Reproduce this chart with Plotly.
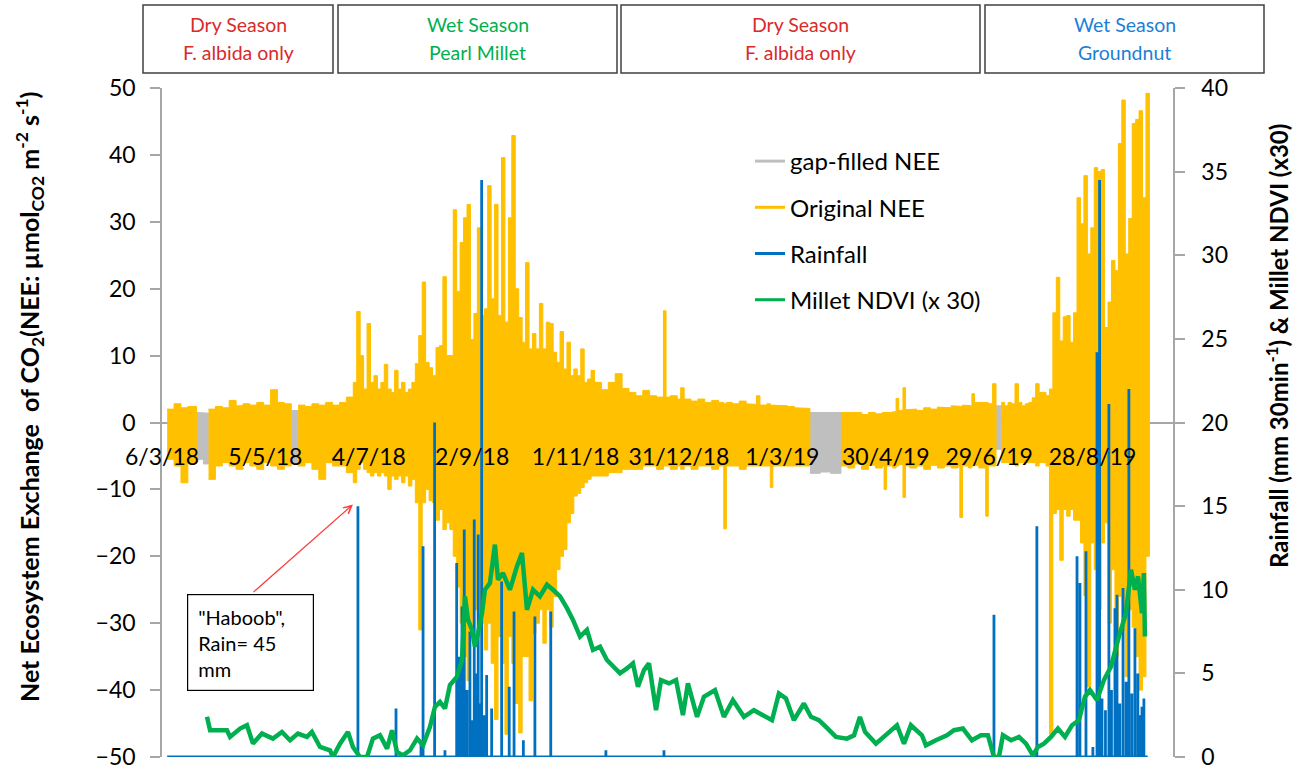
import plotly.graph_objects as go
from datetime import datetime, timedelta

# ---------------- data ----------------
BASE = datetime(2018, 3, 6)          # day 0 of the series / first axis tick

tick_dates = ["2018-03-06", "2018-05-05", "2018-07-04", "2018-09-02", "2018-11-01",
              "2018-12-31", "2019-03-01", "2019-04-30", "2019-06-29", "2019-08-28"]
tick_labels = ["6/3/18", "5/5/18", "4/7/18", "2/9/18", "1/11/18",
               "31/12/18", "1/3/19", "30/4/19", "29/6/19", "28/8/19"]

# NEE envelope per time bin (bin start, days since 6/3/18): upper and lower values
nee_day = ([3, 7, 11, 15, 20, 24, 27, 31, 35, 39, 43, 47, 51, 55, 59, 63, 67, 71, 75, 79,
            83, 87, 91, 95, 99, 103, 107]
           + list(range(111, 251, 2))
           + [251, 255, 259, 263, 267, 271, 275, 279, 283, 287, 291, 292.5, 295, 299, 301,
              303, 307, 311, 315, 319, 323, 326, 327.5, 331, 335, 339, 343, 345, 347, 351,
              353, 354.5, 359, 363, 367, 371]
           + [376, 382, 388]
           + [394, 398, 402, 406, 410, 414, 418, 419, 420.5, 424, 426, 427.5, 430, 431.5,
              434, 438, 442, 446, 450, 454, 458, 462, 463, 464.5, 468, 470, 471.5, 474,
              478, 479.5, 482]
           + [484]
           + list(range(487, 573, 2)))
NEE_END = 573

nee_hi = ([2.0, 2.8, 2.2, 2.4, 1.5, 1.4, 2.0, 2.4, 2.2, 3.3, 2.5, 2.8, 2.6, 3.0, 2.6, 4.9,
           3.0, 2.8, 1.8, 2.6, 2.4, 2.8, 2.6, 3.0, 2.6, 3.0, 3.8]
          + [6.0, 16.6, 10.0, 5.0, 14.8, 6.0, 7.0, 5.0, 6.0, 8.7,
             5.0, 4.5, 7.8, 5.0, 6.0, 4.5, 5.0, 6.0, 8.8, 13.0,
             21.0, 9.0, 8.2, 7.0, 11.2, 11.5, 21.8, 10.0, 10.0, 31.8,
             19.6, 26.9, 30.6, 32.6, 12.4, 16.3, 29.1, 16.0, 17.0, 35.4,
             18.5, 32.6, 16.0, 39.6, 15.0, 30.6, 42.9, 20.0, 15.7, 12.0,
             23.9, 11.0, 13.3, 11.0, 17.8, 11.0, 15.0, 14.8, 10.5, 9.0,
             13.6, 8.0, 12.0, 7.0, 8.0, 7.0, 11.0, 6.0, 6.5, 7.8]
          + [6.0, 4.9, 6.0, 7.3, 5.1, 4.5, 4.0, 4.8, 4.0, 3.8, 16.7, 3.8, 4.0, 3.5, 5.2,
             3.5, 3.2, 3.5, 3.0, 3.3, 3.0, 2.8, 3.0, 2.8, 3.2, 2.8, 2.7, 4.0, 2.6, 2.8,
             2.6, 2.6, 2.5, 2.4, 2.2, 2.1]
          + [1.5, 1.4, 1.5]
          + [1.5, 1.4, 1.5, 1.2, 1.5, 1.3, 1.5, 1.4, 1.5, 1.6, 3.6, 1.8, 5.2, 1.9,
             2.0, 1.8, 2.2, 2.0, 2.3, 2.2, 2.5, 2.5, 2.4, 2.6, 2.5, 4.3, 3.0, 3.0,
             3.0, 2.8, 5.8]
          + [2.5]
          + [3.0, 2.5, 3.0, 2.8, 5.8, 3.0, 2.5, 2.8, 3.0, 3.7,
             5.8, 4.5, 4.5, 4.0, 5.0, 16.4, 21.7, 12.2, 15.8, 16.0,
             12.0, 16.4, 33.6, 29.7, 36.9, 25.2, 29.1, 38.1, 37.5, 37.8,
             14.2, 18.0, 24.2, 22.7, 41.7, 48.2, 25.2, 30.5, 44.7, 45.3,
             46.6, 33.6, 49.2])

nee_lo = ([-5.5, -6.5, -9.0, -6.0, -5.5, -6.2, -8.5, -6.5, -6.0, -6.5, -7.0, -6.0, -6.5,
           -7.0, -6.0, -6.5, -7.0, -6.5, -6.0, -6.5, -6.0, -7.0, -8.5, -6.0, -6.5, -6.5, -7.5]
          + [-9.0, -7.0, -6.0, -7.0, -7.5, -8.0, -7.5, -8.0, -7.5, -8.0,
             -10.0, -8.0, -8.5, -8.0, -9.0, -8.0, -9.5, -8.5, -12.0, -31.0,
             -12.0, -10.0, -11.7, -12.0, -14.6, -13.0, -16.0, -15.0, -16.0, -20.0,
             -24.6, -30.0, -35.0, -38.6, -31.5, -28.0, -31.0, -30.0, -34.0, -30.0,
             -36.0, -44.4, -32.0, -36.0, -46.6, -32.0, -36.0, -42.0, -46.4, -35.0,
             -35.0, -41.6, -31.5, -30.0, -28.0, -33.0, -28.0, -30.6, -26.0, -22.0,
             -20.0, -19.0, -15.0, -13.6, -11.0, -10.6, -9.7, -9.0, -8.5, -8.0]
          + [-8.0, -8.0, -7.5, -7.5, -7.0, -7.0, -7.0, -6.5, -6.5, -7.0, -6.5, -6.5, -7.0,
             -6.5, -7.0, -6.5, -7.0, -6.5, -6.5, -7.0, -6.5, -15.9, -6.5, -6.5, -7.0, -6.5,
             -6.5, -6.5, -6.5, -6.5, -9.7, -6.5, -6.5, -6.5, -6.5, -6.5]
          + [-7.6, -7.4, -7.6]
          + [-6.5, -6.8, -6.2, -7.0, -6.4, -6.8, -6.5, -10.0, -6.5, -6.8, -6.5, -6.3, -11.2,
             -6.5, -6.8, -6.5, -7.0, -6.4, -6.8, -6.5, -6.8, -6.5, -14.2, -6.5, -6.8,
             -6.5, -6.4, -6.8, -14.0, -6.5, -6.5]
          + [-4.0]
          + [-6.0, -6.0, -6.0, -6.0, -6.5, -6.0, -6.0, -6.0, -6.0, -6.0,
             -6.5, -6.0, -6.0, -6.5, -46.6, -13.6, -13.0, -20.6, -13.0, -14.0,
             -13.0, -14.6, -14.6, -18.0, -25.9, -39.5, -18.0, -22.0, -28.0, -18.0,
             -15.0, -30.0, -22.0, -35.0, -26.0, -31.0, -38.0, -28.0, -30.6, -35.0,
             -40.0, -38.0, -20.0])

# periods where the original NEE is missing (gap-filled values shown in grey)
gap_start = [20, 75, 376, 484]
gap_end = [27, 79, 394, 487]

# rainfall events (day, mm per 30 min)
rain_day = [113.7, 135.8, 150.3, 151.5, 158.2, 164.2, 171.0, 172.6, 173.3, 174.1, 175.4,
            176.2, 177.0, 178.7, 179.8, 181.2, 182.5, 183.5, 184.6, 185.5, 186.9, 188.4,
            191.3, 197.1, 201.5, 204.3, 209.7, 216.4, 225.6, 257.6, 291.3,
            482.8, 507.7, 531.0, 532.7, 536.2, 540.2, 542.6, 544.1, 545.5, 547.5, 549.5,
            551.0, 553.0, 554.2, 555.8, 557.7, 559.5, 561.1, 562.8, 564.6, 566.3, 567.5,
            568.7, 569.8]
rain_mm = [15.0, 2.9, 1.0, 12.6, 20.0, 0.4, 11.6, 6.0, 2.6, 9.0, 13.6,
           3.0, 4.0, 7.5, 2.2, 14.2, 5.0, 13.3, 3.2, 34.5, 2.5, 4.9,
           2.9, 10.5, 4.2, 8.7, 1.0, 8.4, 8.7, 0.4, 0.4,
           8.5, 13.8, 12.0, 10.4, 12.3, 0.6, 24.2, 34.5, 3.5, 2.8, 21.1,
           4.0, 8.9, 9.7, 3.2, 10.1, 4.5, 22.0, 3.8, 7.7, 5.0, 2.5,
           3.0, 3.5]
RAIN_FIRST, RAIN_LAST = 3, 572

# Millet NDVI x 30 (day, value)
ndvi_day = [26.1, 27.9, 37.7, 39.5, 45.3, 49.3, 52.8, 58.0, 64.4, 69.6, 74.3, 78.9, 84.1,
            87.0, 91.7, 97.5, 99.2, 103.3, 107.9, 110.8, 114.9, 119.0, 122.4, 126.5, 130.6,
            133.5, 136.4, 139.8, 143.9, 148.0, 151.5, 155.5, 158.4, 161.3, 164.2, 167.1,
            171.2, 174.1, 175.8, 177.6, 179.9, 181.6, 183.4, 185.7, 187.4, 190.3, 193.2,
            195.0, 197.9, 201.9, 206.0, 208.9, 211.8, 215.3, 219.3, 223.4, 226.9, 231.0,
            235.0, 238.5, 242.6, 246.6, 250.1, 254.2, 258.2, 261.7, 265.8, 269.8, 273.3,
            276.2, 279.7, 282.6, 286.7, 289.6, 294.2, 298.3, 302.3, 305.2, 310.5, 314.5,
            320.9, 326.1, 331.3, 337.7, 343.5, 348.7, 354.0, 358.0, 362.1, 366.7, 372.5,
            376.6, 381.2, 385.3, 391.1, 397.5, 401.6, 405.0, 408.0, 414.3, 420.1, 426.5,
            430.6, 434.6, 441.0, 443.3, 449.1, 455.5, 459.6, 464.8, 470.0, 475.2, 479.3,
            482.8, 485.7, 488.0, 492.7, 497.3, 501.4, 505.4, 508.3, 511.8, 515.9, 519.9,
            524.0, 528.1, 532.1, 535.6, 538.5, 542.6, 546.6, 550.7, 555.3, 559.4, 562.3,
            564.6, 566.4, 568.7, 569.8, 570.4]
ndvi_x30 = [2.4, 1.6, 1.6, 1.2, 1.7, 1.9, 0.8, 1.4, 1.1, 1.5, 1.0, 1.4, 1.2,
            1.5, 0.6, 0.4, 0.0, 0.8, 1.5, 0.6, 0.0, 0.0, 1.1, 1.3, 0.5,
            1.6, 0.3, 0.1, 0.4, 1.1, 0.7, 1.8, 3.0, 3.3, 2.9, 4.3,
            4.8, 5.8, 9.6, 8.2, 7.6, 6.6, 7.4, 8.6, 10.0, 10.4, 12.7,
            10.6, 11.0, 10.0, 11.4, 12.2, 8.8, 10.0, 9.6, 10.3, 10.0, 9.6,
            8.9, 8.2, 7.2, 7.6, 6.4, 6.6, 5.8, 5.4, 5.0, 5.3, 5.6,
            4.2, 5.2, 5.6, 2.8, 4.6, 4.4, 4.6, 2.5, 4.4, 2.4, 3.6,
            4.0, 2.4, 3.4, 2.4, 2.8, 2.5, 2.2, 3.8, 3.5, 2.2, 3.2,
            2.4, 2.2, 1.8, 1.2, 1.1, 1.3, 2.4, 1.5, 0.8, 1.3, 1.9,
            0.8, 1.9, 1.3, 0.7, 1.0, 1.3, 1.6, 1.7, 1.0, 1.3, 1.3,
            0.0, 0.0, 1.3, 1.0, 1.2, 0.8, 0.1, 0.6, 0.8, 1.2, 1.7,
            1.2, 1.9, 2.2, 3.6, 4.0, 3.4, 4.6, 5.4, 7.2, 8.6, 11.2,
            10.0, 10.8, 8.6, 11.0, 7.2]

seasons = ["Dry Season", "Wet Season", "Dry Season", "Wet Season"]
season_crops = ["F. albida only", "Pearl Millet", "F. albida only", "Groundnut"]
season_colors = ["#D92B2B", "#00B050", "#D92B2B", "#1C80D6"]

# ---------------- helpers ----------------
def D(d):
    return BASE + timedelta(days=d)

W, H = 1295, 770
ML, MR, MT, MB = 162, 122, 88, 13
PW, PH = W - ML - MR, H - MT - MB


def px(x):
    return (x - ML) / PW


def py(y):
    return 1 - (y - MT) / PH


ends = nee_day[1:] + [NEE_END]
is_gap = [any(s <= d < e for s, e in zip(gap_start, gap_end)) for d in nee_day]


def band(want_gap):
    xs, ys, seg = [], [], []

    def flush():
        if not seg:
            return
        for s, e, h, l in seg:
            xs.extend([D(s), D(e)])
            ys.extend([h, h])
        for s, e, h, l in reversed(seg):
            xs.extend([D(e), D(s)])
            ys.extend([l, l])
        xs.append(None)
        ys.append(None)
        seg.clear()

    for s, e, h, l, g in zip(nee_day, ends, nee_hi, nee_lo, is_gap):
        if g == want_gap:
            seg.append((s, e, h, l))
        else:
            flush()
    flush()
    return xs, ys


GRAY, ORANGE, BLUE, GREEN = "#BFBFBF", "#FFC000", "#0070C0", "#00B050"
AX = "#A6A6A6"
FONT = "Lato"

fig = go.Figure()

gx, gy = band(True)
fig.add_trace(go.Scatter(x=gx, y=gy, mode="lines", fill="toself", fillcolor=GRAY,
                         line=dict(color=GRAY, width=1), showlegend=False, hoverinfo="skip"))
ox, oy = band(False)
fig.add_trace(go.Scatter(x=ox, y=oy, mode="lines", fill="toself", fillcolor=ORANGE,
                         line=dict(color=ORANGE, width=1), showlegend=False, hoverinfo="skip"))

rx, ry = [D(RAIN_FIRST)], [0]
for d, v in sorted(zip(rain_day, rain_mm)):
    rx += [D(d), D(d), D(d)]
    ry += [0, v, 0]
rx.append(D(RAIN_LAST))
ry.append(0)
fig.add_trace(go.Scatter(x=rx, y=ry, mode="lines", yaxis="y2",
                         line=dict(color=BLUE, width=2.8), showlegend=False, hoverinfo="skip"))
fig.add_trace(go.Scatter(x=[D(d) for d in ndvi_day], y=ndvi_x30, mode="lines", yaxis="y2",
                         line=dict(color=GREEN, width=4.5), showlegend=False))

# legend entries
for name, col in [("gap-filled NEE", GRAY), ("Original NEE", ORANGE),
                  ("Rainfall", BLUE), ("Millet NDVI (x 30)", GREEN)]:
    fig.add_trace(go.Scatter(x=[None], y=[None], mode="lines", name=name,
                             line=dict(color=col, width=3), legendgroup=name))

tickfont = dict(family=FONT, size=23, color="black")
fig.update_layout(
    width=W, height=H, margin=dict(l=ML, r=MR, t=MT, b=MB, autoexpand=False),
    paper_bgcolor="white", plot_bgcolor="white",
    xaxis=dict(type="date", range=[D(0), D(586.7)], anchor="free", position=0.5,
               showline=False, showgrid=False, zeroline=False, automargin=False,
               tickvals=tick_dates, ticktext=tick_labels, ticks="",
               tickfont=tickfont, ticklabelstandoff=18),
    yaxis=dict(range=[-50, 50], tick0=0, dtick=10, showgrid=False, automargin=False,
               showline=True, linecolor=AX, linewidth=1.5,
               ticks="outside", ticklen=10, tickcolor=AX, tickwidth=1.5,
               zeroline=True, zerolinecolor=AX, zerolinewidth=1.5,
               tickfont=tickfont, ticklabelstandoff=10, ticklabeloverflow="allow"),
    yaxis2=dict(range=[0, 40], tick0=0, dtick=5, overlaying="y", side="right",
                showgrid=False, zeroline=False, showline=True, linecolor=AX, linewidth=1.5,
                ticks="outside", ticklen=10, tickcolor=AX, tickwidth=1.5, automargin=False,
                tickfont=tickfont, ticklabelstandoff=12, ticklabeloverflow="allow"),
    legend=dict(x=px(750), y=py(139), xanchor="left", yanchor="top",
                bgcolor="rgba(0,0,0,0)", font=dict(family=FONT, size=24, color="black"),
                tracegroupgap=12),
    showlegend=True,
)

# season boxes
box_px = [(143, 333), (338, 617), (621, 980), (985, 1264)]
shapes = []
annos = []
for (x0, x1), s, c, col in zip(box_px, seasons, season_crops, season_colors):
    shapes.append(dict(type="rect", xref="paper", yref="paper", x0=px(x0), x1=px(x1),
                       y0=py(73), y1=py(5), line=dict(color="#404040", width=1.5),
                       fillcolor="white"))
    xc = px((x0 + x1) / 2)
    annos.append(dict(xref="paper", yref="paper", x=xc, y=py(25), text=s, showarrow=False,
                      font=dict(family=FONT, size=19.5, color=col), xanchor="center", yanchor="middle"))
    annos.append(dict(xref="paper", yref="paper", x=xc, y=py(52), text=c, showarrow=False,
                      font=dict(family=FONT, size=19.5, color=col), xanchor="center", yanchor="middle"))

# axis titles
annos.append(dict(xref="paper", yref="paper", x=px(29), y=py(397), textangle=-90,
                  showarrow=False, xanchor="center", yanchor="middle",
                  text="<b>Net Ecosystem Exchange  of CO<sub>2</sub>(NEE: µmol<sub>CO2</sub> m<sup>-2</sup> s<sup>-1</sup>)</b>",
                  font=dict(family=FONT, size=25, color="black")))
annos.append(dict(xref="paper", yref="paper", x=px(1277), y=py(346), textangle=-90,
                  showarrow=False, xanchor="center", yanchor="middle",
                  text="<b>Rainfall (mm 30min<sup>-1</sup>) &amp; Millet NDVI (x30)</b>",
                  font=dict(family=FONT, size=24, color="black")))

# Haboob note
annos.append(dict(xref="paper", yref="paper", x=px(187), y=py(594), xanchor="left", yanchor="top",
                  text="\"Haboob\",<br>Rain= 45<br>mm", align="left", valign="top",
                  showarrow=False, width=105, height=75, borderpad=10,
                  bordercolor="black", borderwidth=1.2, bgcolor="white",
                  font=dict(family=FONT, size=20, color="black")))
annos.append(dict(xref="x", yref="y2", x=D(110.8), y=15.1, text="", showarrow=True,
                  ax=-101, ay=89, arrowcolor="#FF3B3B", arrowwidth=1.2, arrowhead=5,
                  arrowsize=1.3))

fig.update_layout(shapes=shapes, annotations=annos)
fig.write_html("out.html")
